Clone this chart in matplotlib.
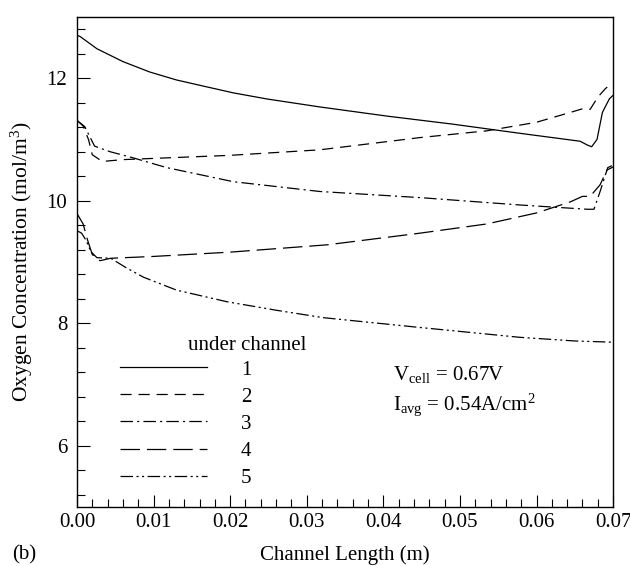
import matplotlib
matplotlib.use('Agg')
import matplotlib.pyplot as plt
from matplotlib.ticker import MultipleLocator, FormatStrFormatter

plt.rcParams['font.family'] = ['Liberation Serif', 'DejaVu Serif']
plt.rcParams['mathtext.fontset'] = 'custom'
plt.rcParams['mathtext.rm'] = 'Liberation Serif'
plt.rcParams['mathtext.it'] = 'Liberation Serif:italic'
plt.rcParams['lines.scale_dashes'] = False

# curve 1 .. 5 (under channel)
x1 = [0, 0.0004, 0.0026, 0.006, 0.0095, 0.013, 0.0165, 0.0204, 0.0248, 0.0317, 0.0405,
      0.049, 0.0578, 0.0657, 0.0666, 0.0672, 0.0679, 0.0686, 0.0695, 0.070]
y1 = [12.70, 12.68, 12.48, 12.27, 12.10, 11.97, 11.87, 11.76, 11.66, 11.53, 11.38,
      11.25, 11.10, 10.97, 10.91, 10.88, 11.00, 11.44, 11.66, 11.72]

x2 = [0, 0.0008, 0.0015, 0.002, 0.0033, 0.006, 0.01, 0.02, 0.0317, 0.0448, 0.0535,
      0.060, 0.0644, 0.066, 0.067, 0.068, 0.069, 0.0695]
y2 = [11.31, 11.22, 11.00, 10.75, 10.64, 10.67, 10.69, 10.74, 10.83, 11.03, 11.14,
      11.28, 11.44, 11.50, 11.49, 11.69, 11.83, 11.88]

x3 = [0, 0.001, 0.0023, 0.0043, 0.0073, 0.0117, 0.0204, 0.0317, 0.0448, 0.0578,
      0.0666, 0.0675, 0.0683, 0.0693, 0.070]
y3 = [11.31, 11.21, 10.89, 10.80, 10.70, 10.54, 10.31, 10.15, 10.05, 9.93,
      9.86, 9.86, 10.15, 10.54, 10.58]

x4 = [0, 0.0008, 0.0014, 0.002, 0.003, 0.0044, 0.01, 0.02, 0.0327, 0.0448, 0.0535,
      0.060, 0.0644, 0.066, 0.067, 0.0683, 0.0692, 0.070]
y4 = [9.79, 9.62, 9.35, 9.12, 9.02, 9.06, 9.09, 9.16, 9.28, 9.47, 9.62,
      9.80, 9.98, 10.07, 10.07, 10.26, 10.50, 10.55]

x5 = [0, 0.0006, 0.0012, 0.0018, 0.0026, 0.0044, 0.0065, 0.0087, 0.013, 0.0196,
      0.0261, 0.0322, 0.0448, 0.0578, 0.065, 0.070]
y5 = [9.51, 9.47, 9.35, 9.17, 9.07, 9.06, 8.90, 8.75, 8.54, 8.35,
      8.21, 8.09, 7.93, 7.77, 7.71, 7.69]

labels = ['1', '2', '3', '4', '5']

fig = plt.figure(figsize=(6.3, 5.66), dpi=100)
ax = fig.add_axes([0.1222, 0.1042, 0.851, 0.866])

lw = 0.9
ax.plot(x1, y1, color='black', lw=lw, ls='-', label=labels[0])
ax.plot(x2, y2, color='black', lw=lw, ls=(0, (8, 5)), label=labels[1])
ax.plot(x3, y3, color='black', lw=lw, ls=(0, (9, 3, 1.5, 3)), label=labels[2])
ax.plot(x4, y4, color='black', lw=lw, ls=(0, (14, 5)), label=labels[3])
ax.plot(x5, y5, color='black', lw=lw, ls=(0, (9, 2.5, 1.5, 2.5, 1.5, 2.5)), label=labels[4])

ax.set_xlim(0, 0.07)
ax.set_ylim(5, 13)
ax.xaxis.set_major_locator(MultipleLocator(0.01))
ax.xaxis.set_minor_locator(MultipleLocator(0.002))
ax.xaxis.set_major_formatter(FormatStrFormatter('%.2f'))
ax.yaxis.set_major_locator(MultipleLocator(2))
ax.yaxis.set_minor_locator(MultipleLocator(0.4))
ax.tick_params(which='both', direction='in', labelsize=15, width=0.8)
ax.tick_params(which='major', length=9)
ax.tick_params(which='minor', length=5.5)
ax.tick_params(axis='x', which='major', pad=4)
ax.tick_params(axis='y', which='major', pad=7)
for s in ax.spines.values():
    s.set_linewidth(1.0)

ax.set_xlabel('Channel Length (m)', fontsize=15, labelpad=9.5)
ax.set_ylabel('Oxygen Concentration (mol/m$^3$)', fontsize=15.5, labelpad=8)

ax.text(0.318, 0.329, 'under channel', transform=ax.transAxes, fontsize=15,
        ha='center', va='center')
ax.legend(loc='upper left', bbox_to_anchor=(0.080, 0.300), frameon=False,
          fontsize=15, handlelength=4.2, handletextpad=1.6, labelspacing=0.36,
          borderpad=0, borderaxespad=0)

ax.text(0.59, 0.271, r'V$_{\mathrm{cell}}$ = 0.67V', transform=ax.transAxes,
        fontsize=15, va='center')
ax.text(0.59, 0.208, r'I$_{\mathrm{avg}}$ = 0.54A/cm$^2$', transform=ax.transAxes,
        fontsize=15, va='center')

fig.text(0.019, 0.019, '(b)', fontsize=15, va='center')

fig.savefig('out.png', dpi=100)
